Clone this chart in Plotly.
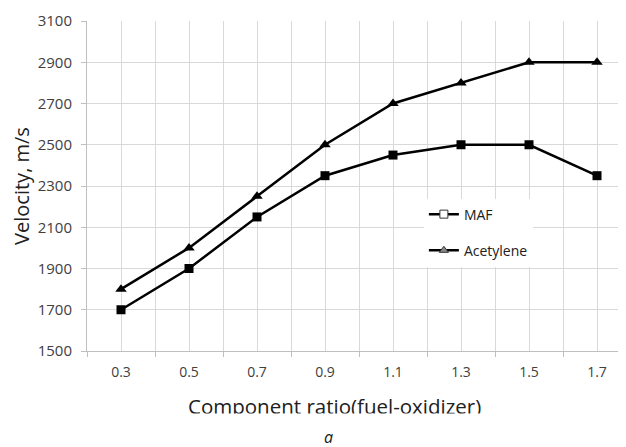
import plotly.graph_objects as go

ratio = [0.3, 0.5, 0.7, 0.9, 1.1, 1.3, 1.5, 1.7]
tick_labels = ["0.3", "0.5", "0.7", "0.9", "1.1", "1.3", "1.5", "1.7"]
maf = [1700, 1900, 2150, 2350, 2450, 2500, 2500, 2350]
acetylene = [1800, 2000, 2250, 2500, 2700, 2800, 2900, 2900]

FONT = "Open Sans"
GRID = "#d9d9d9"

fig = go.Figure()
fig.add_trace(go.Scatter(x=ratio, y=maf, mode="lines+markers", showlegend=False,
                         line=dict(color="black", width=2.5),
                         marker=dict(symbol="square", size=9, color="black")))
fig.add_trace(go.Scatter(x=ratio, y=acetylene, mode="lines+markers", showlegend=False,
                         line=dict(color="black", width=2.5),
                         marker=dict(symbol="triangle-up", size=10, color="black")))
# legend entries (legend style differs from plotted markers in the reference)
fig.add_trace(go.Scatter(x=[None], y=[None], mode="lines+markers", name="MAF",
                         legendgroup="a",
                         line=dict(color="black", width=2.5),
                         marker=dict(symbol="square", size=8, color="white",
                                     line=dict(color="#333333", width=1))))
fig.add_trace(go.Scatter(x=[None], y=[None], mode="lines+markers", name="Acetylene",
                         legendgroup="b",
                         line=dict(color="black", width=2.5),
                         marker=dict(symbol="triangle-up", size=8, color="#888888",
                                     line=dict(color="#333333", width=1))))

fig.update_layout(
    width=618, height=439,
    margin=dict(l=79, r=0, t=13, b=96),
    paper_bgcolor="white", plot_bgcolor="white",
    font=dict(family=FONT, color="#404040"),
    legend=dict(x=0.625, y=0.462, xanchor="left", yanchor="top",
                bgcolor="white", borderwidth=0,
                font=dict(family=FONT, size=14, color="#202020"),
                traceorder="grouped", tracegroupgap=15,
                itemwidth=30, entrywidth=112),
    xaxis=dict(range=[0.2, 0.2 + 539 / 340],
               tickvals=ratio, ticktext=tick_labels, ticks="",
               ticklabelstandoff=8,
               tickfont=dict(family=FONT, size=14, color="#404040"),
               showgrid=True, gridcolor=GRID, gridwidth=1,
               showline=True, linecolor="#bfbfbf", linewidth=1,
               zeroline=False,
               minor=dict(tick0=0.2, dtick=0.2, ticks="outside", ticklen=5,
                          tickcolor="#bfbfbf", showgrid=True,
                          gridcolor=GRID, gridwidth=1)),
    yaxis=dict(range=[1500, 3100], dtick=200, tick0=1500,
               ticks="outside", ticklen=5, tickcolor="#bfbfbf",
               ticklabelstandoff=6,
               tickfont=dict(family=FONT, size=15, color="#404040"),
               showgrid=True, gridcolor=GRID, gridwidth=1,
               showline=True, linecolor="#bfbfbf", linewidth=1,
               zeroline=False,
               title=dict(text="Velocity, m/s", standoff=13,
                          font=dict(family=FONT, size=20, color="#202020"))),
    annotations=[
        dict(text="Component ratio(fuel-oxidizer)", xref="paper", yref="paper",
             x=(334 - 87) / 539, y=(351 - 406) / 330, xanchor="center", yanchor="middle",
             showarrow=False, font=dict(family=FONT, size=20.5, color="#202020")),
        dict(text=" ", xref="paper", yref="paper",
             x=(334 - 87) / 539, y=(351 - 412.5) / 330, xanchor="center", yanchor="top",
             width=360, height=12, bgcolor="white", showarrow=False, borderpad=0),
        dict(text="<i>a</i>", xref="paper", yref="paper",
             x=(328 - 87) / 539, y=(351 - 437) / 330, xanchor="center", yanchor="middle",
             showarrow=False, font=dict(family=FONT, size=16, color="#202020")),
    ],
)

fig.write_html("out.html")
